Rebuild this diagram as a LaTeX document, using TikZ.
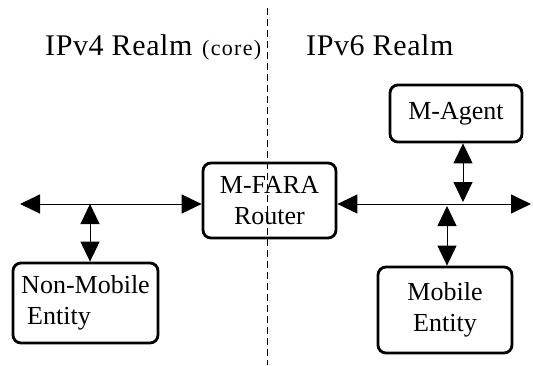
\documentclass[tikz,border=0pt]{standalone}
\usepackage{fontspec}
\setmainfont{Liberation Serif}
\newfontfamily\spaced[LetterSpace=2]{Liberation Serif}
\newfontfamily\wide[LetterSpace=6]{Liberation Serif}
\usetikzlibrary{arrows.meta}
\begin{document}
\begin{tikzpicture}[x=1pt,y=-1pt,
  box/.style={draw,line width=2.8pt,rounded corners=8pt,inner sep=0pt,
    font=\fontsize{26}{31}\selectfont},
  link/.style={line width=1pt,{Triangle[length=20pt,width=19pt]}-{Triangle[length=20pt,width=19pt]}},
  realm/.style={font=\spaced\fontsize{30}{34}\selectfont,inner sep=0pt,anchor=base west}]
\useasboundingbox (0,0) rectangle (533,365);
\node[realm] (v4) at (45,55) {IPv4 Realm};
\node[realm,font=\wide\fontsize{22}{26}\selectfont] (core) at (202,55) {(core)};
\node[realm] (v6) at (306,55) {IPv6 Realm};
\node[box,minimum width=132pt,minimum height=57pt] (agent) at (456,113.5) {M-Agent};
\node[box,minimum width=133pt,minimum height=75pt,align=center] (router) at (269.5,200.5) {M-FARA\\Router};
\node[box,minimum width=145pt,minimum height=80pt,align=left] (nonmob) at (85.5,303) {Non-Mobile\\\hspace{6pt}Entity};
\node[box,minimum width=134pt,minimum height=86pt,align=center] (mob) at (445,310) {Mobile\\Entity};
\coordinate (L) at (20,204);
\coordinate (R) at (531,204);
\coordinate (J1) at (90,204);
\coordinate (J2) at (463,202);
\coordinate (J3) at (447,206);
\draw[link] (L) -- (router.west |- L);
\draw[link] (router.east |- R) -- (R);
\draw[link] (J1) -- (J1 |- nonmob.north);
\draw[link] (J2 |- agent.south) -- (J2);
\draw[link] (J3) -- (J3 |- mob.north);
\coordinate (dtop) at (267,8);
\coordinate (dbot) at (267,365);
\draw[line width=1pt,dash pattern=on 7pt off 4pt] (dtop) -- (dbot);
\end{tikzpicture}
\end{document}
